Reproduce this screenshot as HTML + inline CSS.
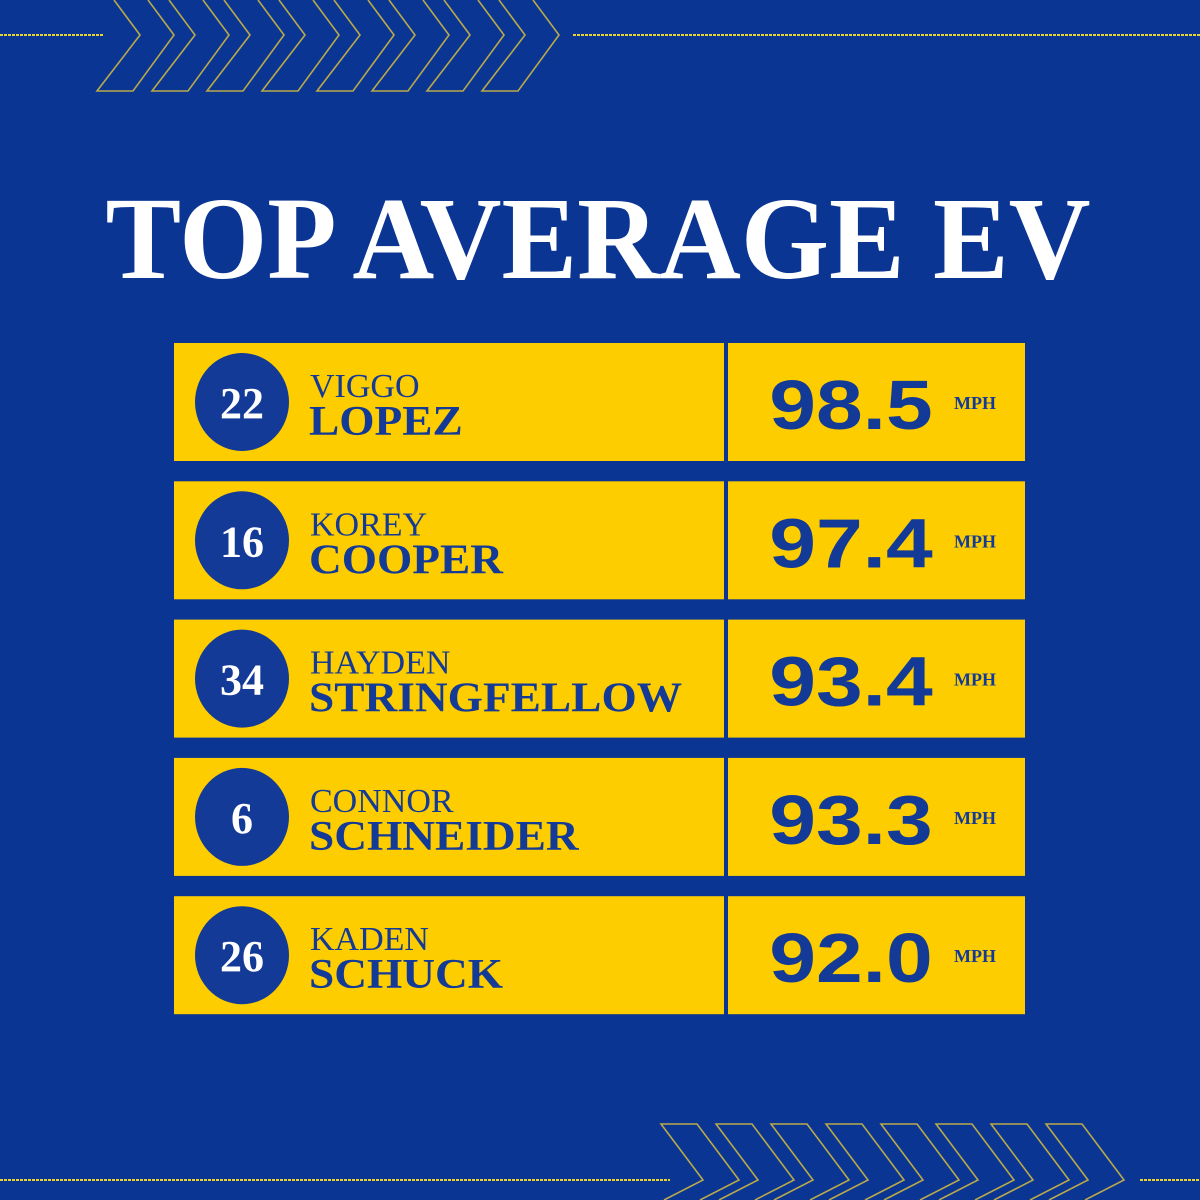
<!DOCTYPE html>
<html><head><meta charset="utf-8"><style>
html,body{margin:0;padding:0;background:#0b3593}
svg{display:block}
</style></head><body>
<svg width="1200" height="1200" viewBox="0 0 1200 1200" xmlns="http://www.w3.org/2000/svg">
<rect width="1200" height="1200" fill="#0b3593"/>
<g id="deco"></g>
<text x="598" y="278" text-anchor="middle" fill="#ffffff" font-family="Liberation Serif, serif" font-weight="bold" font-size="118" textLength="985" lengthAdjust="spacingAndGlyphs">TOP AVERAGE EV</text>
<g id="rows"></g>
</svg>
<script>
const numbers = ["22","16","34","6","26"];
const firstNames = ["VIGGO","KOREY","HAYDEN","CONNOR","KADEN"];
const lastNames = ["LOPEZ","COOPER","STRINGFELLOW","SCHNEIDER","SCHUCK"];
const values = [98.5, 97.4, 93.4, 93.3, 92.0];
const unitLabel = "MPH";

const NS="http://www.w3.org/2000/svg";
function mk(tag, attrs, parent){const e=document.createElementNS(NS,tag);for(const k in attrs)e.setAttribute(k,attrs[k]);parent.appendChild(e);return e;}
const deco=document.getElementById('deco');
function chevronsTop(x0){
  for(let i=0;i<8;i++){
    const x=x0+i*55;
    const e=mk('polyline',{points:`${x+17},0 ${x+43},35 ${x},91 ${x+36},91 ${x+77},35 ${x+51},0`,fill:'none',stroke:'#b9a94a','stroke-width':1.6},deco);
    
    
  }
}
function chevronsBottom(x0){
  for(let i=0;i<8;i++){
    const x=x0+i*55;
    const e=mk('polyline',{points:`${x+3},1200 ${x+42},1180 ${x},1124 ${x+36},1124 ${x+78},1180 ${x+39},1200`,fill:'none',stroke:'#b9a94a','stroke-width':1.6},deco);
    
    
  }
}
chevronsTop(97);
chevronsBottom(661);
[[0,35,104,35],[573,35,1200,35],[0,1180,670,1180],[1140,1180,1200,1180]].forEach(l=>{
  const e=mk('line',{x1:l[0],y1:l[1],x2:l[2],y2:l[3],stroke:'#e8d23a','stroke-width':2,'stroke-dasharray':'3 1'},deco);
  
  
});

const rows=document.getElementById('rows');
const blue="#133a96", yellow="#fdcd00";
for(let i=0;i<values.length;i++){
  const y=343+i*138.3;
  const g=mk('g',{},rows);
  
  
  const l=mk('rect',{x:174,y:y,width:550,height:118,fill:yellow},g);
  
  
  const r=mk('rect',{x:728,y:y,width:297,height:118,fill:yellow},g);
  
  
  const c=mk('ellipse',{cx:242,cy:y+59,rx:47,ry:49,fill:blue},g);
  
  
  const n=mk('text',{x:242,y:y+75,'text-anchor':'middle',fill:'#fff','font-family':'Liberation Serif, serif','font-weight':'bold','font-size':44},g);
  n.textContent=numbers[i];
  
  
  const f=mk('text',{x:310,y:y+54,fill:blue,'font-family':'Liberation Serif, serif','font-size':34},g);
  f.textContent=firstNames[i];
  
  
  const s=mk('text',{x:309,y:y+92,fill:blue,'font-family':'Liberation Serif, serif','font-weight':'bold','font-size':42,'lengthAdjust':'spacingAndGlyphs'},g);
  s.textContent=lastNames[i];
  
  
  s.setAttribute('textLength', (s.getComputedTextLength()*1.08).toFixed(1));
  const v=mk('text',{x:851,y:y+86,'text-anchor':'middle',fill:blue,'font-family':'Liberation Sans, sans-serif','font-weight':'bold','font-size':70,'lengthAdjust':'spacingAndGlyphs'},g);
  v.textContent=values[i].toFixed(1);
  
  
  v.setAttribute('textLength', (v.getComputedTextLength()*1.2).toFixed(1));
  const m=mk('text',{x:975,y:y+66,'text-anchor':'middle',fill:blue,'font-family':'Liberation Serif, serif','font-weight':'bold','font-size':18},g);
  m.textContent=unitLabel;
  
  
}
</script>
</body></html>
